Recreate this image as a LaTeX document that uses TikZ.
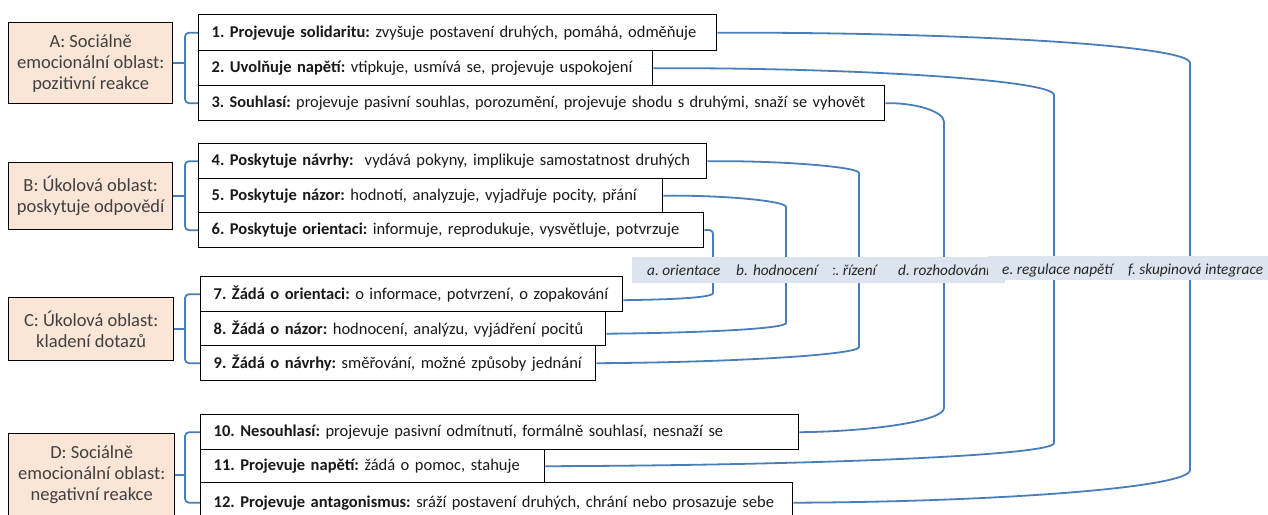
\documentclass[tikz,border=0pt]{standalone}
\usepackage{fontspec}
\setmainfont{Carlito}
\usetikzlibrary{calc}
\definecolor{connc}{HTML}{4A7EBB}
\definecolor{peach}{HTML}{FBE5D6}
\definecolor{bandc}{HTML}{DCE4EF}
\definecolor{labc}{HTML}{404040}
\frenchspacing
\begin{document}
\begin{tikzpicture}[x=1pt,y=-1pt,
  area/.style={draw=black, line width=1.4pt, fill=peach, anchor=north west, inner sep=0pt, align=center, text=labc, font=\fontsize{18.5}{21}\selectfont},
  item/.style={draw=black, line width=1.4pt, fill=white, anchor=north west, inner xsep=13pt, inner ysep=0pt, align=left, font=\fontsize{16.5}{19}\selectfont, text=black!90},
  brace/.style={draw=connc, line width=1.8pt, rounded corners=4pt},
  link/.style={draw=connc, line width=1.8pt},
  bandbox/.style={fill=bandc, draw=none, anchor=north west, inner sep=0pt},
  tag/.style={anchor=west, inner sep=0pt, font=\fontsize{15.3}{17}\selectfont\itshape, text=black!85}
]
\useasboundingbox (0,0) rectangle (1268,514);
\fill[white] (0,0) rectangle (1268,514);

% left area boxes
\node[area, minimum width=164pt, minimum height=81pt] (A) at (8,22) {A: Sociálně\\emocionální oblast:\\pozitivní reakce};
\node[area, minimum width=164pt, minimum height=67pt] (B) at (8,162) {B: Úkolová oblast:\\poskytuje odpovědí};
\node[area, minimum width=165pt, minimum height=63pt] (C) at (8,297) {C: Úkolová oblast:\\kladení dotazů};
\node[area, minimum width=166pt, minimum height=82pt] (D) at (8,433) {D: Sociálně\\emocionální oblast:\\negativní reakce};

% item boxes
\node[item, text width=492pt, minimum height=36pt] (b1) at (198,14) {\textbf{1. Projevuje solidaritu:} zvyšuje postavení druhých, pomáhá, odměňuje};
\node[item, text width=428pt, minimum height=35pt] (b2) at (198,50) {\textbf{2. Uvolňuje napětí:} vtipkuje, usmívá se, projevuje uspokojení};
\node[item, text width=660pt, minimum height=35pt, font=\fontsize{16.3}{19}\selectfont] (b3) at (198,85) {\makebox[660pt][l]{\textbf{3. Souhlasí:} projevuje pasivní souhlas, porozumění, projevuje shodu s druhými, snaží se vyhovět}};

\node[item, text width=482pt, minimum height=35pt] (b4) at (198,143) {\textbf{4. Poskytuje návrhy:}\ \ vydává pokyny, implikuje samostatnost druhých};
\node[item, text width=438pt, minimum height=34pt] (b5) at (198,178) {\textbf{5. Poskytuje názor:} hodnotí, analyzuje, vyjadřuje pocity, přání};
\node[item, text width=479pt, minimum height=35pt] (b6) at (198,212) {\textbf{6. Poskytuje orientaci:} informuje, reprodukuje, vysvětluje, potvrzuje};

\node[item, text width=396pt, minimum height=35pt] (b7) at (200,276) {\textbf{7. Žádá o orientaci:} o informace, potvrzení, o zopakování};
\node[item, text width=379pt, minimum height=34pt] (b8) at (200,311) {\textbf{8. Žádá o názor:} hodnocení, analýzu, vyjádření pocitů};
\node[item, text width=369pt, minimum height=35pt] (b9) at (200,345) {\textbf{9. Žádá o návrhy:} směřování, možné způsoby jednání};

\node[item, text width=572pt, minimum height=35pt] (b10) at (200,414) {\textbf{10. Nesouhlasí:} projevuje pasivní odmítnutí, formálně souhlasí, nesnaží se};
\node[item, text width=318pt, minimum height=33pt] (b11) at (200,449) {\textbf{11. Projevuje napětí:} žádá o pomoc, stahuje};
\node[item, text width=566pt, minimum height=40pt] (b12) at (200,482) {\textbf{12. Projevuje antagonismus:} sráží postavení druhých, chrání nebo prosazuje sebe};

% braces
\draw[brace] (b1.west) -- ++(-13,0) |- (b3.west);
\draw[link] (A.east) -- ++(13,0);
\draw[brace] (b4.west) -- ++(-13,0) |- (b6.west);
\draw[link] (B.east) -- ++(13,0);
\draw[brace] (b7.west) -- ++(-15,0) |- (b9.west);
\draw[link] (C.east) -- ++(12,0);
\draw[brace] (b10.west) -- ++(-15,0) |- (b12.west);
\draw[link] (D.east) -- ++(11,0);

% connectors
\coordinate (f1) at (1190,63);  \coordinate (f2) at (1190,470);
\coordinate (e1) at (1054,95);  \coordinate (e2) at (1054,443);
\coordinate (d1) at (944,122);  \coordinate (d2) at (944,408);
\coordinate (c1) at (859,173);  \coordinate (c2) at (859,347);
\coordinate (vb1) at (786,207); \coordinate (vb2) at (786,323);
\coordinate (va1) at (713,234); \coordinate (va2) at (713,293);

\draw[link] (b1.east) .. controls (952,32) and (1190,45) .. (f1) -- (f2)
  .. controls (1190,488) and (991,502) .. (b12.east);
\draw[link] (b2.east) .. controls (853,67.5) and (1054,80) .. (e1) -- (e2)
  .. controls (1054,456) and (799,465.5) .. (b11.east);
\draw[link] (b3.east) .. controls (914,102.5) and (944,111) .. (d1) -- (d2)
  .. controls (944,421) and (871,431.5) .. (b10.east);
\draw[link] (b4.east) .. controls (782,160.5) and (859,167) .. (c1) -- (c2)
  .. controls (859,355) and (727,362.5) .. (b9.east);
\draw[link] (b5.east) .. controls (724,195) and (786,201) .. (vb1) -- (vb2)
  .. controls (786,329) and (695,333) .. ($(b8.east)+(0,5)$);
\draw[link] (b6.east) .. controls (709,229.5) and (713,230) .. (va1) -- (va2)
  .. controls (713,298) and (668,299.5) .. ($(b7.east)+(0,6)$);

% label band
\node[bandbox, minimum width=373pt, minimum height=26pt] (band1) at (632,257) {};
\node[tag] (la) at (647,270) {a. orientace};
\node[tag] (lc) at (829,270) {c. řízení};
\node[tag] (ld) at (898,270) {d. rozhodování};
\node[tag, fill=bandc, text width=97pt, minimum height=24pt, align=left] (lb) at (736,270) {b. hodnocení};
\node[bandbox, minimum width=280pt, minimum height=24pt] (band2) at (988,256) {};
\node[tag] (le) at (1002,270) {e. regulace napětí};
\node[tag] (lf) at (1128,270) {f. skupinová integrace};
\end{tikzpicture}
\end{document}
